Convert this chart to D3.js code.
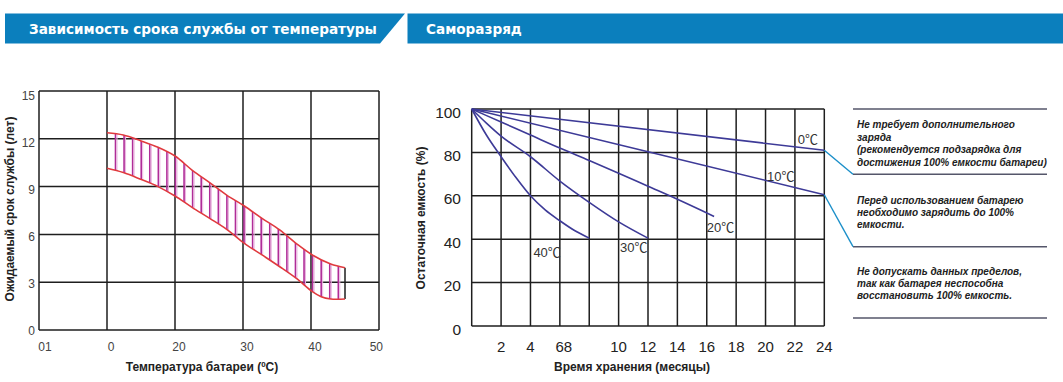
<!DOCTYPE html>
<html>
<head>
<meta charset="utf-8">
<script src="https://cdn.jsdelivr.net/npm/d3@7"></script>
<style>
  html, body { margin: 0; padding: 0; background: #fff; }
  svg { display: block; }
</style>
</head>
<body>
<svg id="chart" width="1063" height="382"></svg>
<script>
// ---------- DATA ----------
const leftTitle = "Зависимость срока службы от температуры";
const rightTitle = "Саморазряд";

// Left chart: life vs temperature
const tempTickValues = [-10, 0, 20, 30, 40, 50];
const tempTickLabels = ["01", "0", "20", "30", "40", "50"];
const lifeTicks = [0, 3, 6, 9, 12, 15];
const upperTemp = [0, 4.8, 9.9, 15, 20, 22.5, 25.1, 27.6, 30.2, 32.8, 35.4, 37.8, 40.2, 42.9, 45];
const upperLife = [12.38, 12.24, 11.88, 11.47, 10.92, 10.04, 9.25, 8.47, 7.78, 7.01, 6.28, 5.44, 4.71, 4.14, 3.91];
const lowerTemp = [0, 4.8, 9.9, 15, 20, 22.5, 25.1, 27.6, 30.2, 32.8, 35.4, 37.8, 40.2, 41.5, 42.9, 45];
const lowerLife = [10.15, 9.88, 9.46, 9.0, 8.41, 7.70, 7.01, 6.32, 5.44, 4.71, 3.97, 3.25, 2.41, 2.09, 1.95, 1.95];
const leftXTitle = "Температура батареи (";
const leftYTitle = "Ожидаемый срок службы (лет)";

// Right chart: self discharge
const monthGrid = [0, 2, 4, 6, 8, 10, 12, 14, 16, 18, 20, 22, 24];
const monthTickValues = [2, 4, 6, 10, 12, 14, 16, 18, 20, 22, 24];
const monthTickLabels = ["2", "4", "68", "10", "12", "14", "16", "18", "20", "22", "24"];
const capTicks = [0, 20, 40, 60, 80, 100];
const seriesNames = ["0℃", "10℃", "20℃", "30℃", "40℃"];
const months0 = [0, 24];
const cap0 = [100, 81];
const months10 = [0, 12, 24];
const cap10 = [100, 80.3, 60.5];
const months20 = [0, 2, 4, 6, 8, 10, 12, 14, 16.5];
const cap20 = [100, 94, 88, 82, 76.3, 70.4, 64.4, 58.4, 50.5];
const months30 = [0, 1, 2, 4, 6, 8, 10, 12];
const cap30 = [100, 93.5, 87.5, 78, 66.8, 57, 48, 40.5];
const months40 = [0, 1, 2, 3, 4, 5, 6, 7, 8];
const cap40 = [100, 88, 78, 68.5, 60, 53.5, 48.5, 44, 40.5];
const labelMonth = [22.2, 20.1, 16.0, 10.1, 4.2];
const labelCap = [84, 67, 43.5, 34, 32];
const rightXTitle = "Время хранения (месяцы)";
const rightYTitle = "Остаточная емкость (%)";

const notes = [
  ["Не требует дополнительного", "заряда", "(рекомендуется подзарядка для", "достижения 100% емкости батареи)"],
  ["Перед использованием батарею", "необходимо зарядить до 100%", "емкости."],
  ["Не допускать данных пределов,", "так как батарея неспособна", "восстановить 100% емкость."]
];

// ---------- DRAW ----------
const svg = d3.select("#chart");
const BLUE = "#0b7fbd";
const GRID = "#1e1e1e";

// Banners
svg.append("polygon").attr("points", "5,13.5 405,13.5 380,43.5 5,43.5").attr("fill", BLUE);
svg.append("rect").attr("x", 407.5).attr("y", 13.5).attr("width", 1063 - 407.5).attr("height", 30).attr("fill", BLUE);
svg.append("text").attr("x", 29).attr("y", 34).attr("fill", "#fff")
  .attr("font-family", "DejaVu Sans, Verdana, sans-serif").attr("font-weight", "bold")
  .attr("font-size", 13.6).text(leftTitle);
svg.append("text").attr("x", 426).attr("y", 34).attr("fill", "#fff")
  .attr("font-family", "DejaVu Sans, Verdana, sans-serif").attr("font-weight", "bold")
  .attr("font-size", 13.6).text(rightTitle);

// ===== LEFT CHART =====
const L = {x0: 39, x1: 379, y0: 91, y1: 330};
const xIdx = d3.scaleLinear().domain([0, tempTickValues.length - 1]).range([L.x0, L.x1]);
const xT = d3.scaleLinear().domain(tempTickValues).range(tempTickValues.map((d, i) => xIdx(i)));
const yL = d3.scaleLinear().domain([0, 15]).range([L.y1, L.y0]);

const gL = svg.append("g");
// grid
gL.selectAll("line.hg").data(lifeTicks).join("line")
  .attr("x1", L.x0).attr("x2", L.x1).attr("y1", d => yL(d)).attr("y2", d => yL(d))
  .attr("stroke", GRID).attr("stroke-width", 1.5);
gL.selectAll("line.vg").data(tempTickValues).join("line")
  .attr("x1", d => xT(d)).attr("x2", d => xT(d)).attr("y1", L.y0).attr("y2", L.y1)
  .attr("stroke", GRID).attr("stroke-width", 1.5);

// band
const upper = upperTemp.map((t, i) => [t, upperLife[i]]);
const lower = lowerTemp.map((t, i) => [t, lowerLife[i]]);
const curve = d3.curveCatmullRom.alpha(0.5);
const lineGen = d3.line().x(d => xT(d[0])).y(d => yL(d[1])).curve(curve);
const upperPath = lineGen(upper);
const lowerRevPath = lineGen(lower.slice().reverse());
const clipD = upperPath + "L" + lowerRevPath.slice(1) + "Z";
svg.append("defs").append("clipPath").attr("id", "band").append("path").attr("d", clipD);

const hatchStart = xT(0) + 8.5, hatchEnd = xT(45) - 2;
const hatchX = d3.range(hatchStart, hatchEnd, 8.57);
gL.append("g").attr("clip-path", "url(#band)")
  .selectAll("line").data(hatchX).join("line")
  .attr("x1", d => d).attr("x2", d => d).attr("y1", L.y0).attr("y2", L.y1)
  .attr("stroke", "#b02c98").attr("stroke-width", 1.6);
gL.append("g").attr("clip-path", "url(#band)")
  .selectAll("line").data(hatchX).join("line")
  .attr("x1", d => d + 1.5).attr("x2", d => d + 1.5).attr("y1", L.y0).attr("y2", L.y1)
  .attr("stroke", "#e9b4df").attr("stroke-width", 1);
// end line
gL.append("line").attr("x1", xT(45)).attr("x2", xT(45))
  .attr("y1", yL(upperLife[upperLife.length - 1])).attr("y2", yL(lowerLife[lowerLife.length - 1]))
  .attr("stroke", GRID).attr("stroke-width", 1.5);
gL.append("path").attr("d", upperPath).attr("fill", "none").attr("stroke", "#e03a3e").attr("stroke-width", 1.6);
gL.append("path").attr("d", lineGen(lower)).attr("fill", "none").attr("stroke", "#e03a3e").attr("stroke-width", 1.6);

// ticks
gL.selectAll("text.yt").data(lifeTicks).join("text")
  .attr("x", 35).attr("y", d => yL(d) + 5 + d * 0.25).attr("text-anchor", "end")
  .attr("font-family", "Liberation Sans, Arial, sans-serif").attr("font-size", 12).attr("fill", "#444")
  .text(d => d);
gL.selectAll("text.xt").data(tempTickValues).join("text")
  .attr("x", (d, i) => xT(d) + (i === 0 ? 6 : 4)).attr("y", 351)
  .attr("text-anchor", (d, i) => i === tempTickValues.length - 1 ? "end" : "middle")
  .attr("font-family", "Liberation Sans, Arial, sans-serif").attr("font-size", 12).attr("fill", "#444")
  .text((d, i) => tempTickLabels[i]);
const xtl = gL.append("text").attr("x", 202).attr("y", 371).attr("text-anchor", "middle")
  .attr("font-family", "Liberation Sans, Arial, sans-serif").attr("font-size", 12).attr("font-weight", "bold").attr("fill", "#222");
xtl.append("tspan").text(leftXTitle);
xtl.append("tspan").attr("font-size", 8).attr("dy", -4).text("0");
xtl.append("tspan").attr("dy", 4).text("C)");
gL.append("text").attr("transform", "translate(14,209) rotate(-90)").attr("text-anchor", "middle")
  .attr("font-family", "Liberation Sans, Arial, sans-serif").attr("font-size", 12).attr("font-weight", "bold").attr("fill", "#222")
  .text(leftYTitle);

// ===== RIGHT CHART =====
const R = {x0: 471.7, x1: 824.3, y0: 109, y1: 326};
const xM = d3.scaleLinear().domain([0, 24]).range([R.x0, R.x1]);
const yC = d3.scaleLinear().domain([0, 100]).range([R.y1, R.y0]);
const gR = svg.append("g");
gR.selectAll("line.hg").data(capTicks).join("line")
  .attr("x1", R.x0).attr("x2", R.x1).attr("y1", d => yC(d)).attr("y2", d => yC(d))
  .attr("stroke", GRID).attr("stroke-width", 1.5);
gR.selectAll("line.vg").data(monthGrid).join("line")
  .attr("x1", d => xM(d)).attr("x2", d => xM(d)).attr("y1", R.y0).attr("y2", R.y1)
  .attr("stroke", GRID).attr("stroke-width", 1.5);

const series = [
  months0.map((m, i) => [m, cap0[i]]),
  months10.map((m, i) => [m, cap10[i]]),
  months20.map((m, i) => [m, cap20[i]]),
  months30.map((m, i) => [m, cap30[i]]),
  months40.map((m, i) => [m, cap40[i]])
];
const lineR = d3.line().x(d => xM(d[0])).y(d => yC(d[1])).curve(d3.curveMonotoneX);
gR.selectAll("path.s").data(series).join("path")
  .attr("d", lineR).attr("fill", "none").attr("stroke", "#3d3a97").attr("stroke-width", 1.6);
gR.selectAll("text.sl").data(seriesNames).join("text")
  .attr("x", (d, i) => xM(labelMonth[i])).attr("y", (d, i) => yC(labelCap[i]))
  .attr("font-family", "Liberation Sans, 'Noto Sans CJK SC', sans-serif").attr("font-size", 13).attr("fill", "#333")
  .text(d => d);

gR.selectAll("text.yt").data(capTicks).join("text")
  .attr("x", 461).attr("y", d => yC(d) + 8.5).attr("text-anchor", "end")
  .attr("font-family", "Liberation Sans, Arial, sans-serif").attr("font-size", 15.5).attr("fill", "#222")
  .text(d => d);
gR.selectAll("text.xt").data(monthTickValues).join("text")
  .attr("x", (d, i) => xM(d) + (monthTickLabels[i] === "68" ? 4 : 0)).attr("y", 352).attr("text-anchor", "middle")
  .attr("font-family", "Liberation Sans, Arial, sans-serif").attr("font-size", 15).attr("fill", "#222")
  .text((d, i) => monthTickLabels[i]);
gR.append("text").attr("x", 632).attr("y", 371).attr("text-anchor", "middle")
  .attr("font-family", "Liberation Sans, Arial, sans-serif").attr("font-size", 12).attr("font-weight", "bold").attr("fill", "#222")
  .text(rightXTitle);
gR.append("text").attr("transform", "translate(425,218) rotate(-90)").attr("text-anchor", "middle")
  .attr("font-family", "Liberation Sans, Arial, sans-serif").attr("font-size", 12).attr("font-weight", "bold").attr("fill", "#222")
  .text(rightYTitle);

// Callouts
const ruleY = [109, 174.3, 246.7, 318];
gR.selectAll("line.rule").data(ruleY).join("line")
  .attr("x1", 853).attr("x2", 1047).attr("y1", d => d).attr("y2", d => d)
  .attr("stroke", "#55566a").attr("stroke-width", 1.5);
gR.append("line").attr("x1", xM(24)).attr("y1", yC(cap0[cap0.length - 1])).attr("x2", 853).attr("y2", ruleY[1])
  .attr("stroke", "#1b8fc9").attr("stroke-width", 1.4);
gR.append("line").attr("x1", xM(24)).attr("y1", yC(cap10[cap10.length - 1])).attr("x2", 853).attr("y2", ruleY[2])
  .attr("stroke", "#1b8fc9").attr("stroke-width", 1.4);

const noteY = [128.3, 203.5, 274.5];
notes.forEach((lines, k) => {
  const t = gR.append("text").attr("x", 857).attr("y", noteY[k])
    .attr("font-family", "Liberation Sans, Arial, sans-serif").attr("font-size", 10)
    .attr("font-weight", "bold").attr("font-style", "italic").attr("fill", "#222");
  lines.forEach((ln, j) => {
    t.append("tspan").attr("x", 857).attr("dy", j === 0 ? 0 : 12.4).text(ln);
  });
});
</script>
</body>
</html>
